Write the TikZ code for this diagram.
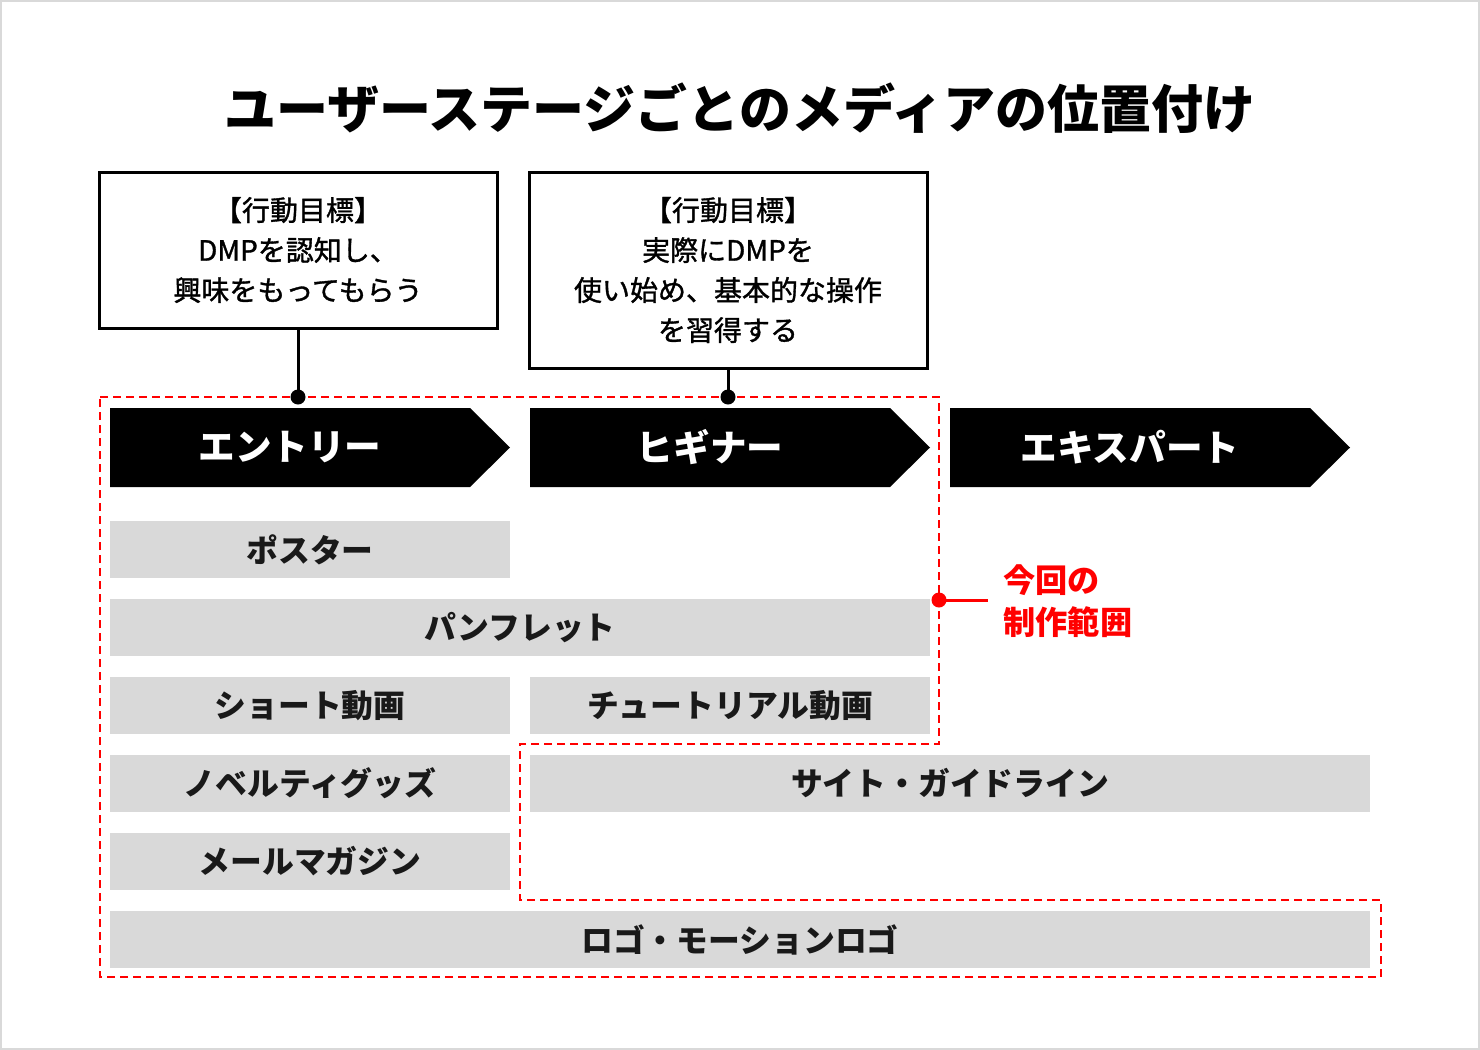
\documentclass[tikz,border=0pt]{standalone}
\usepackage{fontspec}
\setmainfont{Noto Sans CJK JP}
\newfontfamily\goalfont[FakeBold=1.2]{Noto Sans CJK JP}
\usetikzlibrary{positioning}
\definecolor{bargray}{HTML}{D9D9D9}
\definecolor{scopered}{HTML}{FF0000}
\tikzset{
	goalbox/.style={draw=black, line width=1.5pt, fill=white, align=center, inner sep=0pt, minimum width=199pt, font=\goalfont\fontsize{14}{20}\selectfont},
	stagelabel/.style={text=white, font=\bfseries\fontsize{18.3}{20}\selectfont},
	medbar/.style={fill=bargray, inner sep=0pt, minimum height=28.5pt, text=black!90, font=\bfseries\fontsize{15.9}{18}\selectfont},
	scopeline/.style={draw=scopered, line width=1pt, dash pattern=on 4pt off 2.5pt},
}
\begin{document}
\begin{tikzpicture}[x=0.5pt, y=-0.5pt]
	\useasboundingbox (0,0) rectangle (1480,1050);
	\draw[bargray, line width=1pt] (1,1) rectangle (1479,1049);
	% title
	\node (title) at (740,108) {\bfseries\fontsize{26}{30}\selectfont ユーザーステージごとのメディアの位置付け};
	% goals
	\node[goalbox, minimum height=78pt] (goal1) at (298,250) {【行動目標】\\DMPを認知し、\\興味をもってもらう};
	\node[goalbox, minimum height=98pt] (goal2) at (728,270) {【行動目標】\\実際にDMPを\\使い始め、基本的な操作\\を習得する};
	% scope of this work
	\draw[scopeline] (100,397) -- (939,397) -- (939,744) -- (520,744) -- (520,900) -- (1381,900) -- (1381,977) -- (100,977) -- cycle;
	% stages
	\foreach \x/\lbl/\nm in {110/エントリー/entry, 530/ヒギナー/beginner, 950/エキスパート/expert}{\fill[black] (\x,408) -- ++(360,0) -- ++(40,39.5) -- ++(-40,39.5) -- ++(-360,0) -- cycle; \node[stagelabel] (\nm) at (\x+180,447.5) {\lbl};};
	% goal connectors
	\coordinate (dot1) at (298,397);
	\coordinate (dot2) at (728,397);
	\draw[line width=1.5pt] (goal1.south) -- (dot1);
	\draw[line width=1.5pt] (goal2.south) -- (dot2);
	\fill (dot1) circle (3.75pt);
	\fill (dot2) circle (3.75pt);
	% row 1
	\node[medbar, minimum width=200pt] (poster) at (310,549.5) {ポスター};
	% row 2
	\node[medbar, minimum width=410pt] (pamphlet) at (520,627.5) {パンフレット};
	% row 3
	\node[medbar, minimum width=200pt] (shortmovie) at (310,705.5) {ショート動画};
	\node[medbar, minimum width=200pt] (tutorial) at (730,705.5) {チュートリアル動画};
	% row 4
	\node[medbar, minimum width=200pt] (novelty) at (310,783.5) {ノベルティグッズ};
	\node[medbar, minimum width=420pt] (guideline) at (950,783.5) {サイト・ガイドライン};
	% row 5
	\node[medbar, minimum width=200pt] (mailmag) at (310,861.5) {メールマガジン};
	% row 6
	\node[medbar, minimum width=630pt] (logo) at (740,939.5) {ロゴ・モーションロゴ};
	% callout
	\coordinate (rdot) at (939,600);
	\node[anchor=west, align=left, inner xsep=7.5pt, inner ysep=0pt, text=scopered, font=\bfseries\fontsize{16.1}{21}\selectfont] (scopelabel) at (988,601) {今回の\\制作範囲};
	\draw[scopered, line width=1.5pt] (rdot) -- (rdot -| scopelabel.west);
	\fill[scopered] (rdot) circle (3.75pt);
\end{tikzpicture}
\end{document}
